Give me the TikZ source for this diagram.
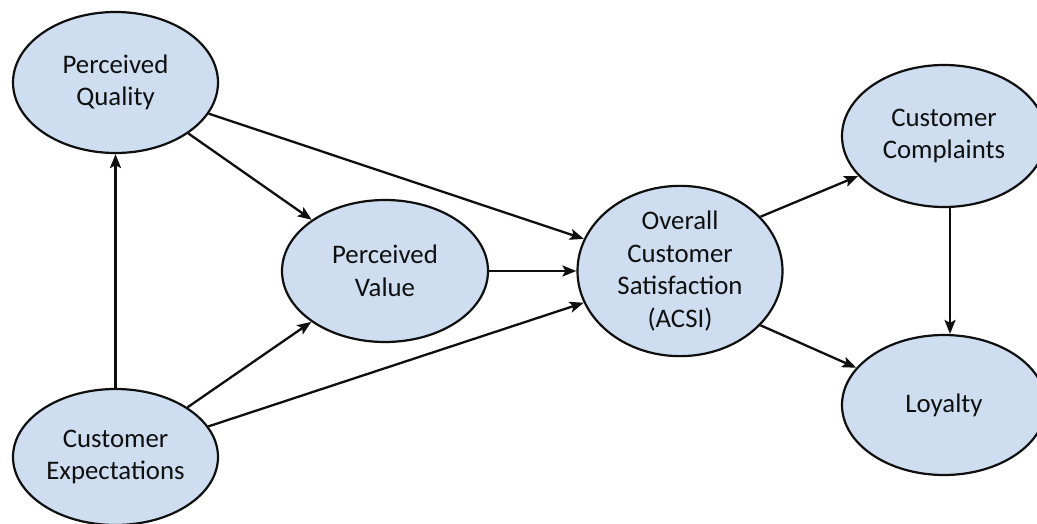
\documentclass[tikz,border=0pt]{standalone}
\usepackage{fontspec}
\setmainfont{Carlito}
\usetikzlibrary{shapes.geometric,arrows.meta}
\definecolor{bubble}{RGB}{206,222,240}
\definecolor{ink}{RGB}{15,15,15}
\tikzset{
  construct/.style={ellipse, draw=ink, line width=2.2pt, fill=bubble, inner sep=0pt,
    align=center, text=ink, font=\fontsize{26.8}{32.7}\selectfont},
  arr/.style={draw=ink, line width=2.3pt, -{Stealth[length=14pt,width=11pt,inset=3pt]}}
}
\begin{document}
\begin{tikzpicture}[x=1pt,y=-1pt]
  \useasboundingbox (0,0) rectangle (1037,524);
  \clip (0,0) rectangle (1037,524);
  \fill[white] (0,0) rectangle (1037,524);

  % constructs of the satisfaction model
  \node[construct, minimum width=205pt, minimum height=141pt] (Q) at (115.5,82.5) {Perceived\\Quality};
  \node[construct, minimum width=205pt, minimum height=136pt] (E) at (115.5,457) {Customer\\Expectations};
  \node[construct, minimum width=206pt, minimum height=142pt] (V) at (385,271) {Perceived\\Value};
  \node[construct, minimum width=205pt, minimum height=152pt] (O) at (680,271) {Overall\\Customer\\Satisfaction\\(ACSI)};
  \node[construct, minimum width=204pt, minimum height=142pt] (C) at (944,136) {Customer\\Complaints};
  \node[construct, minimum width=204pt, minimum height=140pt] (L) at (944,405) {Loyalty};

  % causal paths
  \draw[arr] (E.north) -- (Q.south);
  \draw[arr] (Q) -- (V);
  \draw[arr] (Q) -- (O);
  \draw[arr] (E) -- (V);
  \draw[arr] (E) -- (O);
  \draw[arr] (V) -- (O);
  \draw[arr] (O.34) -- (C.205);
  \draw[arr] (O.-34) -- (L.157);
  \draw[arr] ([xshift=6pt]C.south) -- ([xshift=6pt]L.north);
\end{tikzpicture}
\end{document}
